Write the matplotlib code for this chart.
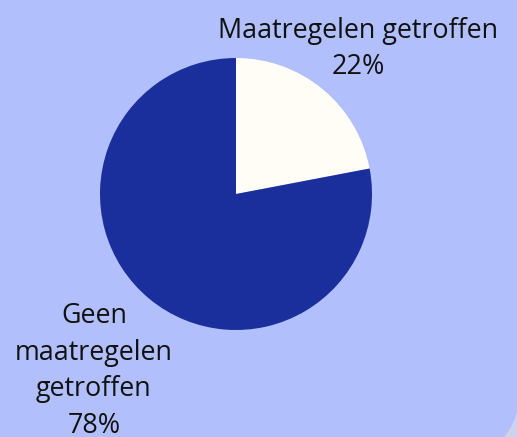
import matplotlib
matplotlib.use("Agg")
import matplotlib.pyplot as plt
from matplotlib.patches import FancyBboxPatch

labels = ["Maatregelen getroffen", "Geen\nmaatregelen\ngetroffen"]
values = [22, 78]
colors = ["#fffdf5", "#1a2e9c"]

W, H = 517, 437
fig = plt.figure(figsize=(W / 100, H / 100), dpi=100, facecolor="#cdd2ee")

bg = fig.add_axes([0, 0, 1, 1])
bg.set_xlim(0, W)
bg.set_ylim(H, 0)
bg.axis("off")
card = FancyBboxPatch((-200, -200), 721, 661,
                      boxstyle="round,pad=0,rounding_size=81",
                      facecolor="#b1bffd", edgecolor="none")
bg.add_patch(card)

cx, cy, r = 236, 194, 136
ax = fig.add_axes([(cx - r) / W, (H - cy - r) / H, 2 * r / W, 2 * r / H])
ax.pie(values, colors=colors, startangle=90, counterclock=False,
       wedgeprops=dict(linewidth=0))
ax.set_xlim(-1, 1)
ax.set_ylim(-1, 1)
ax.axis("off")

font = "Open Sans"
fs = 19.4
bg.text(358, 49, f"{labels[0]}\n{values[0]}%", ha="center", va="center",
        multialignment="center", fontsize=fs, family=font, color="#111111",
        linespacing=1.4)
bg.text(94, 371, f"{labels[1]}\n{values[1]}%", ha="center", va="center",
        multialignment="center", fontsize=fs, family=font, color="#111111",
        linespacing=1.4)

fig.savefig("out.png", dpi=100, facecolor=fig.get_facecolor())
